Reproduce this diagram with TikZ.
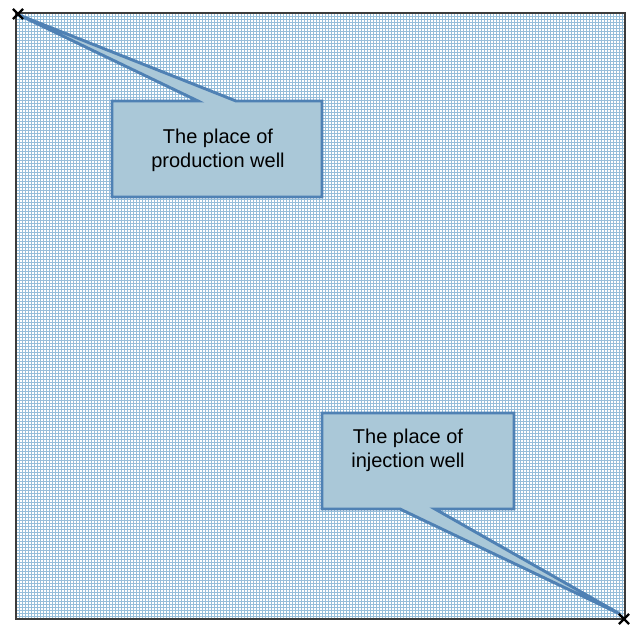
\documentclass[tikz,border=0pt]{standalone}
\usepackage{fontspec}
\setmainfont{Liberation Sans}
\definecolor{gridc}{RGB}{150,190,218}
\definecolor{boxfill}{RGB}{170,200,216}
\definecolor{boxedge}{RGB}{79,129,180}
\definecolor{framec}{RGB}{60,60,60}
\tikzset{
  callout/.style={fill=boxfill, draw=boxedge, line width=2.2pt, line join=miter},
  calltext/.style={font=\fontsize{15}{18}\selectfont, align=center, text=black},
  crossmark/.style={line width=1.8pt, black},
}
\begin{document}
\begin{tikzpicture}[x=0.75pt,y=-0.75pt]
\useasboundingbox (0,0) rectangle (634,625);
\fill[white] (16,13) rectangle (625,619);
\draw[gridc, line width=0.45pt, step=3*0.75pt, shift={(16,13)}] (0,0) grid (609,606);
\draw[framec, line width=0.9pt] (16,13) rectangle (625,619);
% callout 1
\coordinate (tip1) at (19,15);
\draw[callout] (112,101) -- (198,101) -- (tip1) -- (236,101) -- (322,101) -- (322,197) -- (112,197) -- cycle;
\node[calltext] (t1) at (218,150) {The place of\\production well};
% callout 2
\coordinate (tip2) at (620,614);
\draw[callout] (322,413) -- (514,413) -- (514,509) -- (435,509) -- (tip2) -- (400,509) -- (322,509) -- cycle;
\node[calltext] (t2) at (408,450) {The place of\\injection well};
% cross markers
\coordinate (c1) at (18,14);
\coordinate (c2) at (624,619);
\draw[crossmark] ([xshift=-3.8pt,yshift=3.8pt]c1) -- ([xshift=3.8pt,yshift=-3.8pt]c1)
  ([xshift=-3.8pt,yshift=-3.8pt]c1) -- ([xshift=3.8pt,yshift=3.8pt]c1);
\draw[crossmark] ([xshift=-3.8pt,yshift=3.8pt]c2) -- ([xshift=3.8pt,yshift=-3.8pt]c2)
  ([xshift=-3.8pt,yshift=-3.8pt]c2) -- ([xshift=3.8pt,yshift=3.8pt]c2);
\end{tikzpicture}
\end{document}
